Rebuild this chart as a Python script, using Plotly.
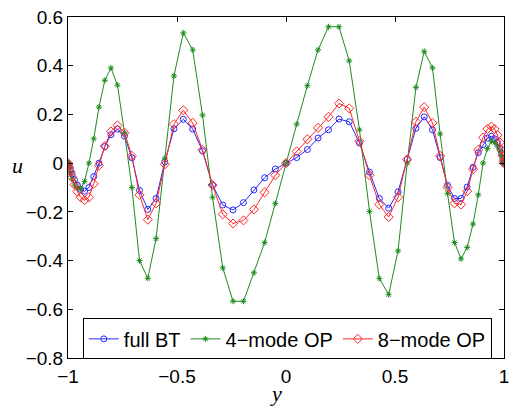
import plotly.graph_objects as go

# Chebyshev-like sample locations along y
y_pts = [-1.000, -0.999, -0.995, -0.989, -0.981, -0.970, -0.957, -0.942, -0.924, -0.904,
         -0.882, -0.858, -0.831, -0.803, -0.773, -0.741, -0.707, -0.672, -0.634, -0.596,
         -0.556, -0.514, -0.471, -0.428, -0.383, -0.337, -0.290, -0.243, -0.195, -0.147,
         -0.098, -0.049, 0.000,
         0.049, 0.098, 0.147, 0.195, 0.243, 0.290, 0.337, 0.383, 0.428, 0.471,
         0.514, 0.556, 0.596, 0.634, 0.672, 0.707, 0.741, 0.773, 0.803, 0.831,
         0.858, 0.882, 0.904, 0.924, 0.942, 0.957, 0.970, 0.981, 0.989, 0.995,
         0.999, 1.000]

u_full_bt = [0.0, -0.003, -0.012, -0.027, -0.045, -0.068, -0.09, -0.108, -0.115, -0.1,
             -0.055, 0.0, 0.068, 0.117, 0.14, 0.111, 0.022, -0.112, -0.19, -0.145,
             0.005, 0.141, 0.18, 0.14, 0.05, -0.09, -0.172, -0.192, -0.162, -0.11,
             -0.06, -0.024, 0.0,
             0.023, 0.056, 0.103, 0.137, 0.181, 0.17, 0.083, -0.037, -0.145, -0.185,
             -0.118, 0.016, 0.143, 0.19, 0.137, 0.023, -0.091, -0.145, -0.145, -0.098,
             -0.017, 0.043, 0.076, 0.103, 0.11, 0.10, 0.085, 0.06, 0.04, 0.02,
             0.005, 0.0]

u_4mode = [0.0, -0.004, -0.018, -0.04, -0.065, -0.09, -0.103, -0.105, -0.075, 0.0,
           0.1, 0.23, 0.34, 0.391, 0.32, 0.125, -0.10, -0.40, -0.473, -0.31,
           0.02, 0.358, 0.535, 0.465, 0.197, -0.14, -0.43, -0.567, -0.567, -0.45,
           -0.326, -0.165, 0.0,
           0.16, 0.318, 0.465, 0.56, 0.56, 0.42, 0.137, -0.198, -0.473, -0.54,
           -0.36, 0.0, 0.311, 0.459, 0.391, 0.12, -0.125, -0.326, -0.393, -0.346,
           -0.25, -0.13, 0.0, 0.06, 0.09, 0.085, 0.07, 0.05, 0.03, 0.015,
           0.004, 0.0]

u_8mode = [0.0, -0.004, -0.016, -0.035, -0.058, -0.088, -0.117, -0.14, -0.152, -0.14,
           -0.085, -0.01, 0.07, 0.13, 0.155, 0.125, 0.03, -0.13, -0.232, -0.165,
           -0.005, 0.16, 0.217, 0.165, 0.055, -0.09, -0.21, -0.248, -0.235, -0.19,
           -0.12, -0.05, 0.0,
           0.048, 0.098, 0.145, 0.19, 0.245, 0.225, 0.09, -0.05, -0.17, -0.221,
           -0.14, 0.015, 0.17, 0.23, 0.165, 0.03, -0.1, -0.165, -0.17, -0.115,
           -0.025, 0.055, 0.105, 0.14, 0.15, 0.14, 0.115, 0.085, 0.055, 0.03,
           0.008, 0.0]

series_names = ["full BT", "4\u2212mode OP", "8\u2212mode OP"]
x_ticks = [-1, -0.5, 0, 0.5, 1]
x_ticklabels = ["\u22121", "\u22120.5", "0", "0.5", "1"]
y_ticks = [-0.8, -0.6, -0.4, -0.2, 0, 0.2, 0.4, 0.6]
y_ticklabels = ["\u22120.8", "\u22120.6", "\u22120.4", "\u22120.2", "0", "0.2", "0.4", "0.6"]

blue = "rgb(40,40,255)"
green = "rgb(30,140,30)"
red = "rgb(255,40,40)"

fig = go.Figure()
fig.add_trace(go.Scatter(x=y_pts, y=u_full_bt, name=series_names[0], mode="lines+markers",
                         line=dict(color=blue, width=1),
                         marker=dict(symbol="circle-open", size=6, color=blue, line=dict(width=1))))
fig.add_trace(go.Scatter(x=y_pts, y=u_4mode, name=series_names[1], mode="lines+markers",
                         line=dict(color=green, width=1),
                         marker=dict(symbol="asterisk-open", size=5, color=green, line=dict(width=1, color=green))))
fig.add_trace(go.Scatter(x=y_pts, y=u_8mode, name=series_names[2], mode="lines+markers",
                         line=dict(color=red, width=1),
                         marker=dict(symbol="diamond-open", size=7, color=red, line=dict(width=1))))

tick_font = dict(family="Liberation Sans, Arial, sans-serif", size=19, color="black")
axis_common = dict(showgrid=False, zeroline=False, showline=True, linecolor="black", linewidth=1,
                   mirror="ticks", ticks="inside", ticklen=5, tickcolor="black", tickfont=tick_font,
                   ticklabeloverflow="allow")

fig.update_xaxes(range=[-1, 1], tickvals=x_ticks, ticktext=x_ticklabels, ticklabelstandoff=1, **axis_common)
fig.update_yaxes(range=[-0.8, 0.6], tickvals=y_ticks, ticktext=y_ticklabels, ticklabelstandoff=0, **axis_common)

fig.update_layout(
    width=516, height=410,
    margin=dict(l=68, r=7, t=10, b=52),
    paper_bgcolor="white", plot_bgcolor="white",
    showlegend=True,
    legend=dict(orientation="h", x=0.034, y=-0.004, xanchor="left", yanchor="bottom",
                bgcolor="white", bordercolor="black", borderwidth=1,
                font=dict(family="Liberation Sans, Arial, sans-serif", size=20, color="black"),
                itemwidth=30, tracegroupgap=0),
    annotations=[
        dict(text="<i>u</i>", xref="paper", yref="paper", x=-0.1156, y=0.565,
             xanchor="center", yanchor="middle", showarrow=False,
             font=dict(family="Liberation Serif, Times New Roman, serif", size=22, color="black")),
        dict(text="<i>y</i>", xref="paper", yref="paper", x=0.476, y=-0.105,
             xanchor="center", yanchor="middle", showarrow=False,
             font=dict(family="Liberation Serif, Times New Roman, serif", size=22, color="black")),
    ],
)

fig.write_html("out.html")
